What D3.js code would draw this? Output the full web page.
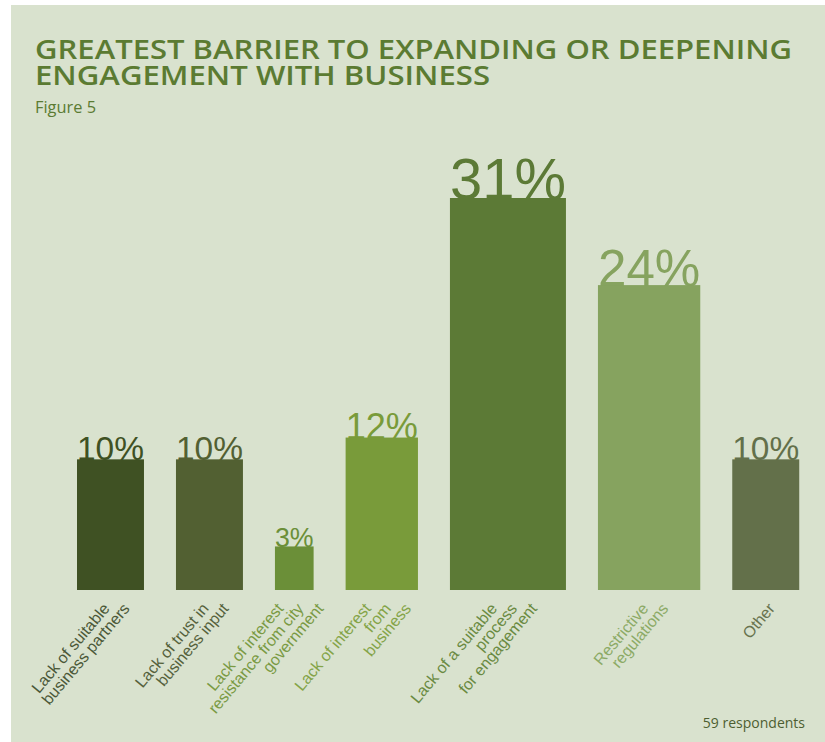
<!DOCTYPE html>
<html>
<head>
<meta charset="utf-8">
<script src="https://cdn.jsdelivr.net/npm/d3@7"></script>
<style>
  body{margin:0;background:#fff;}
</style>
</head>
<body>
<script>
const titleLines = ["GREATEST BARRIER TO EXPANDING OR DEEPENING", "ENGAGEMENT WITH BUSINESS"];
const subtitle = "Figure 5";
const respondents = 59;
const categories = [
  ["Lack of suitable", "business partners"],
  ["Lack of trust in", "business input"],
  ["Lack of interest", "resistance from city", "government"],
  ["Lack of interest", "from", "business"],
  ["Lack of a suitable", "process", "for engagement"],
  ["Restrictive", "regulations"],
  ["Other"]
];
const counts = [6, 6, 2, 7, 18, 14, 6];
const barColors = ["#3f5123", "#526032", "#6b8f38", "#799b3a", "#5c7a36", "#86a35f", "#63704a"];
const labelColors = ["#4b5838", "#55613c", "#7a9a44", "#84a448", "#6a8a42", "#8caa66", "#68734f"];

const width = 825, height = 742;
const green = "#5b7b32";

const svg = d3.select("body").append("svg")
  .attr("width", width)
  .attr("height", height);

svg.append("rect")
  .attr("x", 11).attr("y", 5)
  .attr("width", width - 11).attr("height", height - 5)
  .attr("fill", "#d9e2ce");

const titleLen = [757, 455];
svg.selectAll(".title")
  .data(titleLines)
  .enter().append("text")
  .attr("class", "title")
  .attr("x", 35)
  .attr("y", (d, i) => 59 + i * 26)
  .attr("textLength", (d, i) => titleLen[i])
  .attr("lengthAdjust", "spacingAndGlyphs")
  .style("font-family", "'Open Sans', sans-serif")
  .style("font-weight", 600)
  .style("font-size", "27px")
  .attr("fill", green)
  .text(d => d);

svg.append("text")
  .attr("x", 35).attr("y", 113)
  .attr("textLength", 61)
  .attr("lengthAdjust", "spacingAndGlyphs")
  .style("font-family", "'Open Sans', sans-serif")
  .style("font-size", "17px")
  .attr("fill", green)
  .text(subtitle);

svg.append("text")
  .attr("x", 805).attr("y", 728)
  .attr("text-anchor", "end")
  .style("font-family", "'Open Sans', sans-serif")
  .style("font-size", "14px")
  .attr("fill", "#4d5e31")
  .text(respondents + " respondents");

// bar height from count, bar width grows with sqrt of count
const yScale = d3.scaleLinear()
  .domain([0, d3.max(counts)])
  .range([590, 198]);
const wScale = d3.scaleSqrt()
  .domain([0, d3.max(counts)])
  .range([0, 116]);

const gap = 32;
let cursor = 77;
const bars = counts.map((c, i) => {
  const w = wScale(c);
  const b = {i: i, count: c, x: cursor, w: w, cx: cursor + w / 2,
    pct: Math.round(c / respondents * 100) + "%", lines: categories[i]};
  cursor += w + gap;
  return b;
});

// value labels first, bars sit on top of their baseline
const vals = svg.selectAll(".val")
  .data(bars)
  .enter().append("text")
  .attr("class", "val")
  .attr("x", d => d.cx)
  .attr("y", d => yScale(d.count) + 1)
  .attr("text-anchor", "middle")
  .style("font-family", "'Liberation Sans', Arial, sans-serif")
  .style("font-size", "100px")
  .attr("fill", d => barColors[d.i])
  .text(d => d.pct);
vals.each(function(d) {
  const len = this.getComputedTextLength();
  d3.select(this).style("font-size", (100 * d.w / len) + "px");
});

svg.selectAll(".bar")
  .data(bars)
  .enter().append("rect")
  .attr("class", "bar")
  .attr("x", d => d.x)
  .attr("y", d => yScale(d.count))
  .attr("width", d => d.w)
  .attr("height", d => yScale(0) - yScale(d.count))
  .attr("fill", d => barColors[d.i]);

const cats = svg.selectAll(".cat")
  .data(bars)
  .enter().append("g")
  .attr("class", "cat");
cats.each(function(d) {
  const n = d.lines.length;
  d3.select(this).selectAll("text")
    .data(d.lines)
    .enter().append("text")
    .attr("transform", (t, j) => "translate(" + (d.cx + (j - (n - 1) / 2) * 20 + 10) + ",609) rotate(-50)")
    .attr("text-anchor", "end")
    .style("font-family", "'Liberation Sans', Arial, sans-serif")
    .style("font-size", "16px")
    .attr("fill", labelColors[d.i])
    .text(t => t);
});
</script>
</body>
</html>
